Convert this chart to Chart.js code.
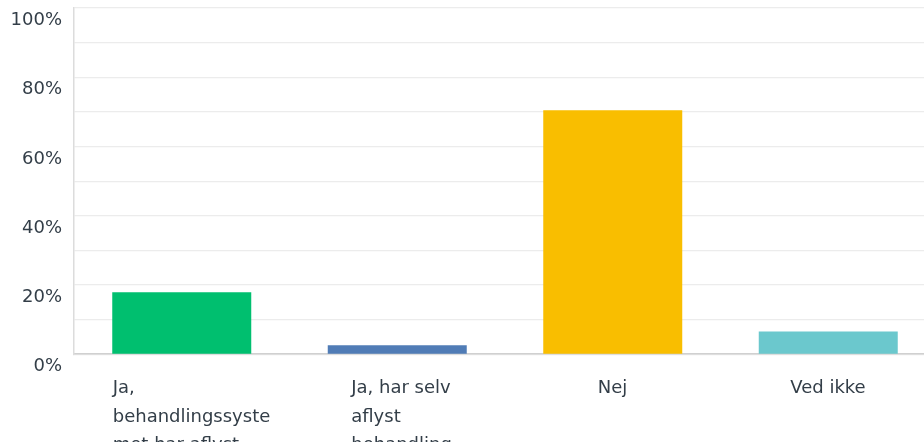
<!DOCTYPE html>
<html lang="da">
<head>
  <meta charset="UTF-8">
  <title>Svarfordeling</title>
  <script src="https://cdn.jsdelivr.net/npm/chart.js"></script>
  <style>
    html, body { margin: 0; padding: 0; overflow: hidden; background: #fff; }
    #clip { width: 924px; height: 442px; overflow: hidden; }
    #wrap { position: relative; width: 940px; height: 508px; }
  </style>
</head>
<body>
  <div id="clip"><div id="wrap"><canvas id="chart"></canvas></div></div>

  <script>
    // Kategorier (brudt i linjer som i originalen) og værdier i procent
    const tickLabels = [
      ['Ja,', 'behandlingssyste', 'met har aflyst', 'behandling'],
      ['Ja, har selv', 'aflyst', 'behandling'],
      ['Nej'],
      ['Ved ikke']
    ];
    const percentValues = [17.9, 2.6, 70.5, 6.6];
    const barColors = ['#00bf6f', '#507cb6', '#f9be00', '#6bc8cd'];
    const yTickLabels = ['0%', '20%', '40%', '60%', '80%', '100%'];

    // forskydning af x-etiketter (venstrestillet tekst), i px fra kategoriens midte
    const xLabelShift = [-69, -46, -15, -38];

    const textColor = '#333e48';
    const font = { family: 'DejaVu Sans', size: 18, lineHeight: 1.58 };

    // Chart.js kan ikke forskyde hver x-etiket for sig, så det gøres her
    const shiftLabels = {
      id: 'shiftLabels',
      beforeDraw(chart) {
        const items = chart.scales.x.getLabelItems();
        if (items._shifted) return;
        items.forEach((it, i) => { it.options.translation[0] += xLabelShift[i] || 0; });
        items._shifted = true;
      }
    };

    new Chart(document.getElementById('chart').getContext('2d'), {
      type: 'bar',
      data: {
        labels: tickLabels,
        datasets: [{
          data: percentValues,
          backgroundColor: barColors,
          borderWidth: 0,
          categoryPercentage: 1,
          barPercentage: 0.645
        }]
      },
      options: {
        responsive: true,
        maintainAspectRatio: false,
        animation: false,
        layout: { padding: { left: 11, right: 4, top: 8, bottom: 0 } },
        plugins: { legend: { display: false }, tooltip: { enabled: false } },
        scales: {
          x: {
            grid: { display: false, drawTicks: false },
            border: { display: true, color: '#d0d0d0', width: 1.5 },
            ticks: {
              color: textColor,
              font: font,
              padding: 20,
              maxRotation: 0,
              autoSkip: false,
              align: 'start'
            }
          },
          y: {
            min: 0,
            max: 100,
            afterFit: scale => { scale.width = 63; scale.paddingTop = 0; scale.paddingBottom = 0; },
            grid: { color: '#ececec', lineWidth: 1.2, drawTicks: false },
            border: { display: true, color: '#dcdcdc', width: 1.5 },
            ticks: {
              stepSize: 10,
              color: textColor,
              font: { family: 'DejaVu Sans', size: 18 },
              padding: 12,
              labelOffset: 12.5,
              callback: v => (v % 20 === 0 ? yTickLabels[v / 20] : '')
            }
          }
        }
      },
      plugins: [shiftLabels]
    });
  </script>
</body>
</html>
